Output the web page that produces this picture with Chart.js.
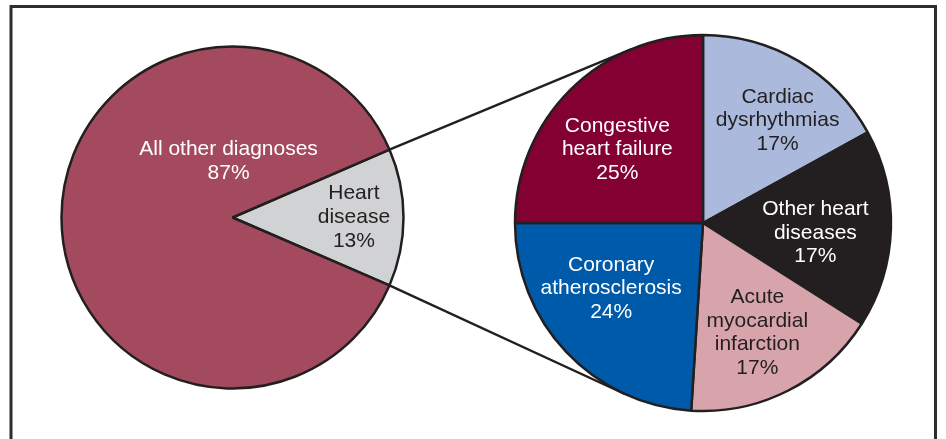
<!DOCTYPE html>
<html>
<head>
<meta charset="utf-8">
<script src="https://cdn.jsdelivr.net/npm/chart.js@4.4.0/dist/chart.umd.min.js"></script>
<style>
  html, body { margin: 0; padding: 0; background: #fff; }
  #wrap { position: relative; width: 946px; height: 439px; overflow: hidden; }
  #wrap canvas { position: absolute; left: 0; top: 0; }
</style>
</head>
<body>
<div id="wrap">
  <canvas id="overview" width="946" height="439"></canvas>
  <canvas id="detail" width="946" height="439"></canvas>
</div>
<script>
// left pie: all hospital diagnoses
const overviewLabels = [["Heart", "disease"], ["All other diagnoses"]];
const overviewValues = [13, 87];
const overviewColors = ["#d1d2d4", "#a34a5f"];
const overviewTextColors = ["#231f20", "#ffffff"];

// right pie: breakdown of heart disease
const heartLabels = [
  ["Cardiac", "dysrhythmias"],
  ["Other heart", "diseases"],
  ["Acute", "myocardial", "infarction"],
  ["Coronary", "atherosclerosis"],
  ["Congestive", "heart failure"]
];
const heartValues = [17, 17, 17, 24, 25];
const heartColors = ["#aab9dc", "#231f20", "#d8a4ab", "#005aaa", "#830033"];
const heartTextColors = ["#231f20", "#ffffff", "#231f20", "#ffffff", "#ffffff"];

const edge = "#231f20";

// text inside slices: [angle from 12 o'clock in degrees, fraction of radius]
const sliceLabels = {
  id: "sliceLabels",
  afterDatasetsDraw(chart, args, opts) {
    const ctx = chart.ctx;
    const arcs = chart.getDatasetMeta(0).data;
    const values = chart.data.datasets[0].data;
    ctx.save();
    ctx.font = "21px 'Liberation Sans', Arial, sans-serif";
    ctx.textAlign = "center";
    ctx.textBaseline = "middle";
    arcs.forEach((arc, i) => {
      const [deg, frac] = opts.place[i];
      const a = (deg - 90) * Math.PI / 180;
      const x = arc.x + Math.cos(a) * arc.outerRadius * frac;
      const y = arc.y + Math.sin(a) * arc.outerRadius * frac;
      const lines = [].concat(chart.data.labels[i], values[i] + "%");
      ctx.fillStyle = opts.colors[i];
      lines.forEach((t, j) => {
        ctx.fillText(t, x, y + (j - (lines.length - 1) / 2) * opts.lineHeight);
      });
    });
    ctx.restore();
  }
};

// frame + lines joining the heart disease wedge to the second pie
const connector = {
  id: "connector",
  beforeDatasetsDraw(chart) {
    const ctx = chart.ctx;
    ctx.save();
    ctx.strokeStyle = "#2d2d2d";
    ctx.lineWidth = 3;
    ctx.beginPath();
    ctx.moveTo(11, 439);
    ctx.lineTo(11, 6.5);
    ctx.lineTo(935.5, 6.5);
    ctx.lineTo(935.5, 439);
    ctx.stroke();

    const wedge = overviewChart.getDatasetMeta(0).data[0];
    const big = chart.getDatasetMeta(0).data[0];
    const r = big.outerRadius;
    ctx.strokeStyle = edge;
    ctx.lineWidth = 2.4;
    [[wedge.startAngle, -1], [wedge.endAngle, 1]].forEach(([ang, side]) => {
      const px = wedge.x + Math.cos(ang) * wedge.outerRadius;
      const py = wedge.y + Math.sin(ang) * wedge.outerRadius;
      const dx = big.x - px, dy = big.y - py;
      const dist = Math.hypot(dx, dy);
      const t = Math.atan2(dy, dx) + side * Math.asin(r / dist);
      const len = Math.sqrt(dist * dist - r * r);
      ctx.beginPath();
      ctx.moveTo(px, py);
      ctx.lineTo(px + Math.cos(t) * len, py + Math.sin(t) * len);
      ctx.stroke();
    });
    ctx.restore();
  }
};

const overviewChart = new Chart(document.getElementById("overview"), {
  type: "pie",
  data: {
    labels: overviewLabels,
    datasets: [{
      data: overviewValues,
      backgroundColor: overviewColors,
      borderColor: edge,
      borderWidth: 2.5
    }]
  },
  options: {
    responsive: false,
    animation: false,
    rotation: 66.6,
    radius: 171,
    layout: { padding: { left: 0, right: 481, top: 0, bottom: 4 } },
    plugins: {
      legend: { display: false },
      tooltip: { enabled: false },
      sliceLabels: {
        place: [[90, 0.71], [356, 0.33]],
        colors: overviewTextColors,
        lineHeight: 24
      }
    }
  },
  plugins: [sliceLabels]
});

const detailChart = new Chart(document.getElementById("detail"), {
  type: "pie",
  data: {
    labels: heartLabels,
    datasets: [{
      data: heartValues,
      backgroundColor: heartColors,
      borderColor: edge,
      borderWidth: 2.5
    }]
  },
  options: {
    responsive: false,
    animation: false,
    rotation: 0,
    radius: 188,
    layout: { padding: { left: 460, right: 0, top: 10, bottom: 3 } },
    plugins: {
      legend: { display: false },
      tooltip: { enabled: false },
      sliceLabels: {
        place: [[36, 0.675], [95, 0.6], [153.6, 0.65], [234.5, 0.6], [310.6, 0.6]],
        colors: heartTextColors,
        lineHeight: 23.5
      }
    }
  },
  plugins: [connector, sliceLabels]
});
</script>
</body>
</html>
